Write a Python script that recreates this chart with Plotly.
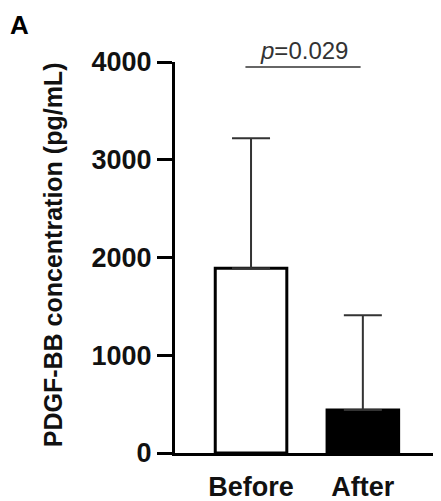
import plotly.graph_objects as go

# values
groups = ["Before", "After"]
means = [1890, 440]
sd_upper = [1330, 970]
bar_colors = ["white", "black"]
y_ticks = [0, 1000, 2000, 3000, 4000]
p_text = "<i>p</i>=0.029"
sig_y = 3950

FONT = "Liberation Sans, Arial, sans-serif"

fig = go.Figure()
fig.add_trace(go.Bar(
    x=groups, y=means, width=0.64,
    marker=dict(color=bar_colors, line=dict(color="black", width=3)),
    error_y=dict(type="data", symmetric=False, array=sd_upper, arrayminus=[0, 0],
                 color="#333333", thickness=2, width=19),
    showlegend=False,
))

# significance bar over the two groups
fig.add_shape(type="line", xref="x", yref="y", x0=-0.05, x1=0.98, y0=sig_y, y1=sig_y,
              line=dict(color="#333333", width=1.5))
fig.add_annotation(x=0.47, y=sig_y + 10, xref="x", yref="y", text=p_text, showarrow=False,
                   yanchor="bottom", font=dict(family=FONT, size=24, color="#333333"))

fig.add_annotation(x=-0.46, y=0.506, xref="paper", yref="paper", textangle=-90,
                   xanchor="center", yanchor="middle",
                   text="PDGF-BB concentration (pg/mL)", showarrow=False,
                   font=dict(family=FONT, size=25, color="#111111", weight="bold"))
fig.add_annotation(x=-0.632, y=1.139, xref="paper", yref="paper", text="A", showarrow=False,
                   xanchor="left", yanchor="top",
                   font=dict(family=FONT, size=26, color="black", weight="bold"))

fig.update_xaxes(range=[-0.68, 1.69], showline=True, linecolor="black", linewidth=3,
                 ticks="", ticklabelstandoff=8, showgrid=False, zeroline=False,
                 tickfont=dict(family=FONT, size=27, color="#111111", weight="bold"))
fig.update_yaxes(range=[0, 4000], tickvals=y_ticks, showline=True, linecolor="black",
                 linewidth=3, ticks="outside", ticklen=15, tickwidth=3, tickcolor="black",
                 showgrid=False, zeroline=False,
                 tickfont=dict(family=FONT, size=27, color="#111111", weight="bold"))

# page body adds an 8px offset, so margins are shifted to keep the plot area in place
fig.update_layout(width=441, height=501, margin=dict(l=167, r=9, t=54, b=56, autoexpand=False),
                  plot_bgcolor="white", paper_bgcolor="white", bargap=0.3)
fig.write_html("out.html")
